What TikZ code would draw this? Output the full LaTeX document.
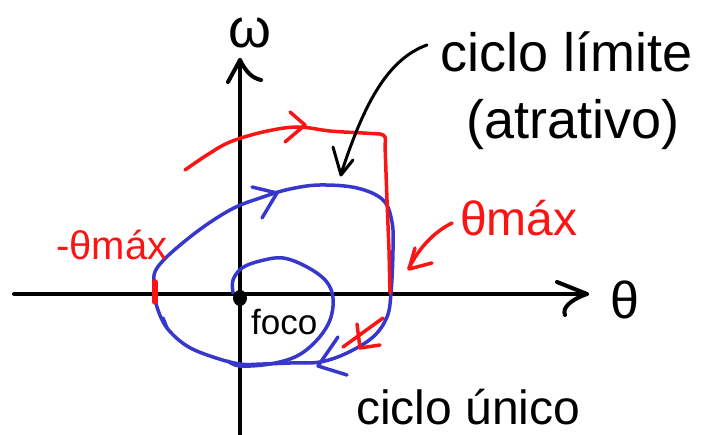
\documentclass[tikz,border=0pt]{standalone}
\usepackage{fontspec}
\setmainfont{Liberation Sans}
\definecolor{penblue}{RGB}{55,55,205}
\definecolor{penred}{RGB}{250,20,20}
\begin{document}
\begin{tikzpicture}[x=1pt,y=-1pt,line cap=round,line join=round,
  axisline/.style={line width=4pt,black},
  bluepen/.style={line width=3.5pt,penblue},
  redpen/.style={line width=3.5pt,penred},
  blackpen/.style={line width=3pt,black},
  lbl/.style={inner sep=0pt,anchor=base west}]
\useasboundingbox (0,0) rectangle (719,435);
% axes
\coordinate (xl) at (14,294);
\coordinate (xr) at (587,294);
\coordinate (yb) at (240,435);
\coordinate (yt) at (240,60);
\draw[axisline] (xl) -- (xr);
\draw[axisline] (557,282) -- (xr) .. controls (570,300) and (562,308) .. (565,315);
\draw[axisline] (yb) -- (yt);
\draw[axisline] (228,82) -- (yt) .. controls (246,72) and (252,78) .. (261,80);
\node[inner sep=0pt] (w) at (250,33) {\fontsize{55}{60}\selectfont ω};
\node[inner sep=0pt] (th) at (625,300) {\fontsize{52}{60}\selectfont θ};
% blue spiral
\draw[bluepen] plot[smooth,tension=0.6] coordinates {(233,293) (233,280) (242,268) (260,261) (283,258) (307,267) (326,281) (333,298) (330,320) (317,340) (297,356) (270,364) (240,366) (228,361)};
\draw[bluepen] plot[smooth cycle,tension=0.6] coordinates {(157,268) (190,237) (230,210) (263,197) (290,189) (320,185) (357,188) (383,200) (392,222) (393,250) (391,293) (387,317) (373,337) (347,353) (320,362) (290,363) (263,364) (240,364) (213,357) (187,346) (167,328) (157,307) (155,290)};
\draw[bluepen] (252,187) -- (277,193) -- (262,218);
\draw[bluepen] (338,337) -- (318,366) -- (347,375);
\draw[bluepen] (163,318) -- (167,328);
% red trajectory
\draw[redpen] plot[smooth,tension=0.6] coordinates {(185,170) (207,155) (230,142) (263,132) (297,127) (330,131) (363,133) (380,134)};
\draw[redpen] (380,134) .. controls (386,135) and (386,138) .. (385,145) -- (387,200) -- (389,250) -- (390,293);
\draw[redpen] (290,112) -- (305,125) -- (285,142);
\draw[redpen] (343,347) -- (383,318);
\draw[redpen] (357,324) -- (360,348) -- (380,345);
\draw[line width=5.5pt,penred] (155,282) -- (155,302);
% origin
\fill[black] (240,298) ellipse (7pt and 8pt);
\node[lbl] (foco) at (251,334) {\fontsize{35}{40}\selectfont foco};
% labels
\node[lbl,penred] (mthm) at (56,260) {\fontsize{40}{44}\selectfont -θmáx};
\node[lbl,penred] (thm) at (460,236) {\fontsize{48}{52}\selectfont θmáx};
\draw[redpen] (452,223) .. controls (432,233) and (418,250) .. (409,268);
\draw[redpen] (415,248) -- (409,269) -- (432,263);
\node[lbl] (cl) at (440,72) {\fontsize{54}{60}\selectfont ciclo límite};
\node[lbl] (at) at (466,139) {\fontsize{54}{60}\selectfont (atrativo)};
\draw[blackpen] (427,45) .. controls (385,60) and (362,110) .. (341,174);
\draw[blackpen] (333,147) -- (341,175) -- (353,160);
\node[lbl] (cu) at (356,424) {\fontsize{48}{52}\selectfont ciclo único};
\end{tikzpicture}
\end{document}
